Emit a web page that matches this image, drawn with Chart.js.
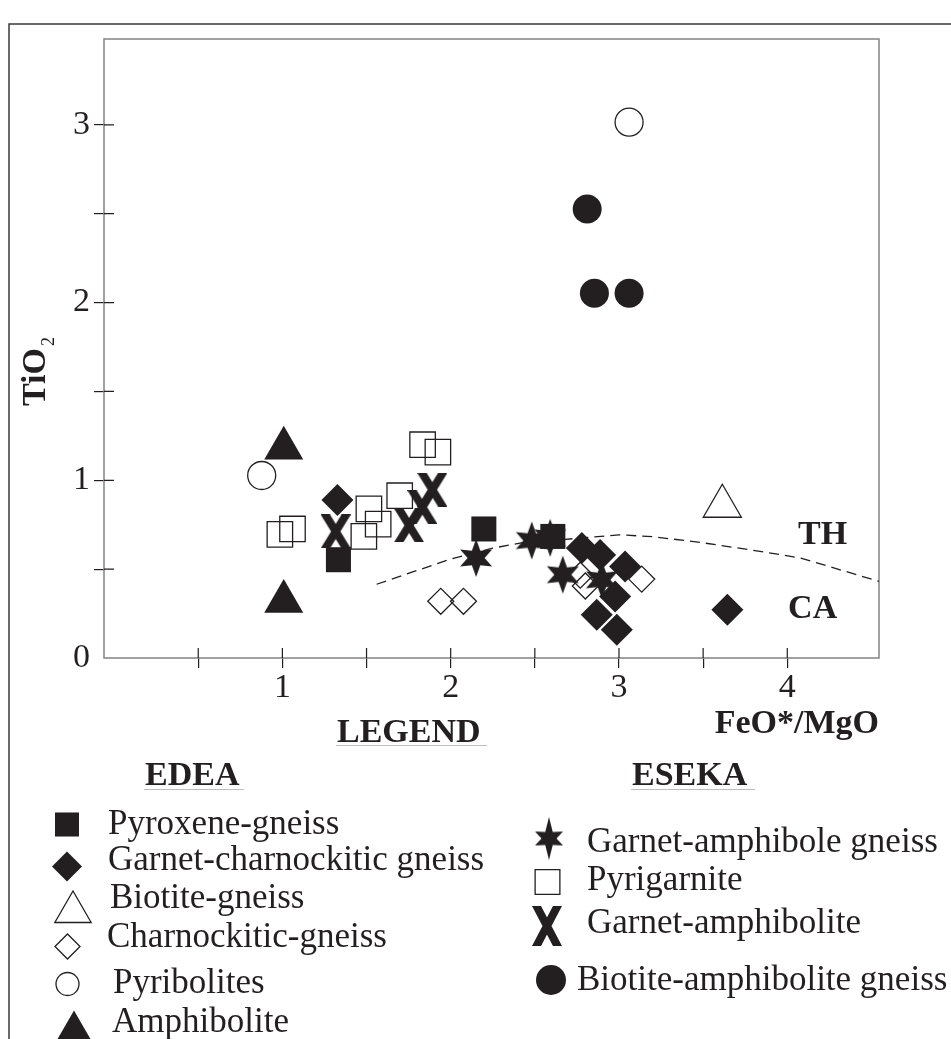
<!DOCTYPE html>
<html><head><meta charset="utf-8">
<script src="https://cdn.jsdelivr.net/npm/chart.js@4.4.1/dist/chart.umd.min.js"></script>
<style>html,body{margin:0;padding:0;background:#fff;overflow:hidden}canvas{display:block}</style>
</head><body>
<canvas id="c" width="951" height="1039" style="width:951px;height:1039px"></canvas>
<script>
// ---------- data ----------
const pyroxeneGneissX = [1.333, 2.197, 2.607];
const pyroxeneGneissY = [0.553, 0.726, 0.684];
const garnetCharnockiticX = [1.327, 2.779, 2.888, 3.036, 2.977, 2.868, 2.987, 3.644];
const garnetCharnockiticY = [0.889, 0.619, 0.580, 0.515, 0.346, 0.244, 0.159, 0.271];
const biotiteGneissX = [3.614];
const biotiteGneissY = [0.854];
const charnockiticGneissX = [1.941, 2.076, 2.77, 2.80, 3.135];
const charnockiticGneissY = [0.319, 0.319, 0.466, 0.405, 0.444];
const pyribolitesX = [0.877, 3.06];
const pyribolitesY = [1.027, 3.015];
const amphiboliteX = [1.008, 1.008];
const amphiboliteY = [1.180, 0.318];
const garnetAmphiboleGneissX = [2.151, 2.482, 2.591, 2.666, 2.898];
const garnetAmphiboleGneissY = [0.563, 0.661, 0.676, 0.469, 0.440];
const pyrigarniteX = [0.985, 1.060, 1.514, 1.569, 1.484, 1.697, 1.833, 1.924];
const pyrigarniteY = [0.696, 0.726, 0.839, 0.753, 0.684, 0.913, 1.200, 1.158];
const garnetAmphiboliteX = [1.317, 1.753, 1.832, 1.891];
const garnetAmphiboliteY = [0.712, 0.746, 0.849, 0.947];
const biotiteAmphiboliteGneissX = [2.811, 2.854, 3.06];
const biotiteAmphiboliteGneissY = [2.527, 2.053, 2.053];
const boundaryX = [1.56, 2.0, 2.25, 2.42, 2.75, 3.0, 3.2, 3.5, 3.86, 4.08, 4.55];
const boundaryY = [0.415, 0.557, 0.618, 0.648, 0.673, 0.693, 0.683, 0.648, 0.597, 0.562, 0.430];

const xTickValues = [0.5, 1, 1.5, 2, 2.5, 3, 3.5, 4];
const xTickLabels = ['', '1', '', '2', '', '3', '', '4'];
const yTickValues = [0, 0.5, 1, 1.5, 2, 2.5, 3];
const yTickLabels = ['0', '', '1', '', '2', '', '3'];
const xTitle = 'FeO*/MgO';
const yTitle = 'TiO';
const yTitleSub = '2';
const fieldLabels = [{text: 'TH', x: 4.064, y: 0.643}, {text: 'CA', x: 4.005, y: 0.227}];
const edeaTitle = 'EDEA';
const esekaTitle = 'ESEKA';
const legendTitle = 'LEGEND';

// ---------- styles ----------
const INK = '#231f20';
const CLEAR = 'rgba(0,0,0,0)';
const SERIF = '"Liberation Serif", "Times New Roman", serif';

function makeStar(w, h, vy, sx, sy, ri) {
  const c = document.createElement('canvas'); c.width = w; c.height = h;
  const g = c.getContext('2d'); const cx = w / 2, cy = h / 2;
  const outer = [[0, -vy], [sx, -sy], [sx, sy], [0, vy], [-sx, sy], [-sx, -sy]];
  const innerAng = [-60, 0, 60, 120, 180, 240].map(a => a * Math.PI / 180);
  g.fillStyle = INK; g.beginPath();
  outer.forEach((p, i) => {
    const px = cx + p[0], py = cy + p[1];
    i ? g.lineTo(px, py) : g.moveTo(px, py);
    const a = innerAng[i];
    g.lineTo(cx + Math.cos(a) * ri, cy + Math.sin(a) * ri);
  });
  g.closePath(); g.fill();
  return c;
}
function makeX(w, h) {
  const c = document.createElement('canvas'); c.width = w; c.height = h;
  const g = c.getContext('2d');
  g.strokeStyle = INK; g.lineWidth = 8; g.lineCap = 'butt';
  const a = 4.5, b = w - 4.5, ext = 6, dx = (b - a) / h * ext;
  g.beginPath();
  g.moveTo(a - dx, -ext); g.lineTo(b + dx, h + ext);
  g.moveTo(b + dx, -ext); g.lineTo(a - dx, h + ext);
  g.stroke();
  return c;
}
const starImg = makeStar(34, 40, 19, 16, 8.5, 8.5);
const starImgLegend = makeStar(30, 44, 21.5, 14, 7, 7.5);
const xImg = makeX(30, 34);
const xImgLegend = makeX(30, 40);

const pts = (xs, ys) => xs.map((x, i) => ({x, y: ys[i]}));
function ds(label, xs, ys, style, radius, filled) {
  return {
    label, data: pts(xs, ys), pointStyle: style, pointRadius: radius,
    pointBackgroundColor: filled ? INK : CLEAR, pointBorderColor: INK,
    pointBorderWidth: filled ? 0 : 1.3, showLine: false
  };
}

const datasets = [
  ds('Pyroxene-gneiss', pyroxeneGneissX, pyroxeneGneissY, 'rect', 17.7, true),
  ds('Garnet-amphibole gneiss', garnetAmphiboleGneissX, garnetAmphiboleGneissY, starImg, 16, true),
  ds('Garnet-charnockitic gneiss', garnetCharnockiticX, garnetCharnockiticY, 'rectRot', 16, true),
  ds('Garnet-amphibolite', garnetAmphiboliteX, garnetAmphiboliteY, xImg, 16, true),
  ds('Pyrigarnite', pyrigarniteX, pyrigarniteY, 'rect', 18, false),
  ds('Charnockitic-gneiss', charnockiticGneissX, charnockiticGneissY, 'rectRot', 13, false),
  ds('Biotite-gneiss', biotiteGneissX, biotiteGneissY, 'triangle', 22, false),
  ds('Pyribolites', pyribolitesX, pyribolitesY, 'circle', 14, false),
  ds('Biotite-amphibolite gneiss', biotiteAmphiboliteGneissX, biotiteAmphiboliteGneissY, 'circle', 14.5, true),
  ds('Amphibolite', amphiboliteX, amphiboliteY, 'triangle', 22.5, true),
  {label: 'TH/CA boundary', data: pts(boundaryX, boundaryY), showLine: true, pointRadius: 0,
   borderColor: INK, borderWidth: 1.3, borderDash: [10, 6], fill: false, tension: 0}
];

// legend layout (positions only)
const legendLayout = [
  {label: 'Pyroxene-gneiss', mx: 67, my: 824.5, r: 17, tx: 108, ty: 834},
  {label: 'Garnet-charnockitic gneiss', mx: 67, my: 866.5, r: 15, tx: 108, ty: 870},
  {label: 'Biotite-gneiss', mx: 73, my: 912, r: 21, tx: 110, ty: 908},
  {label: 'Charnockitic-gneiss', mx: 67.5, my: 946.5, r: 12.5, tx: 107, ty: 947},
  {label: 'Pyribolites', mx: 67.5, my: 984, r: 11.5, tx: 113, ty: 993},
  {label: 'Amphibolite', mx: 74, my: 1031, r: 20.5, tx: 112, ty: 1032},
  {label: 'Garnet-amphibole gneiss', mx: 549, my: 838.5, r: 16, tx: 587, ty: 851.5, img: starImgLegend},
  {label: 'Pyrigarnite', mx: 547.5, my: 882, r: 17.5, tx: 587, ty: 890},
  {label: 'Garnet-amphibolite', mx: 547, my: 926, r: 16, tx: 587, ty: 933, img: xImgLegend},
  {label: 'Biotite-amphibolite gneiss', mx: 551, my: 980, r: 15, tx: 577, ty: 990}
];

const framePlugin = {
  id: 'frame',
  beforeDraw(chart) {
    const ctx = chart.ctx;
    ctx.save();
    ctx.fillStyle = '#fff'; ctx.fillRect(0, 0, chart.width, chart.height);
    ctx.strokeStyle = '#3a3a3a'; ctx.lineWidth = 1.5;
    ctx.beginPath(); ctx.moveTo(9, chart.height); ctx.lineTo(9, 24); ctx.lineTo(chart.width, 24); ctx.stroke();
    ctx.restore();
  },
  beforeDatasetsDraw(chart) {
    const {ctx, chartArea: a, scales: {x, y}} = chart;
    ctx.save();
    ctx.strokeStyle = '#8a8a8a'; ctx.lineWidth = 1.6;
    ctx.strokeRect(a.left, a.top, a.right - a.left, a.bottom - a.top);
    ctx.strokeStyle = INK; ctx.lineWidth = 1.2; ctx.beginPath();
    x.ticks.forEach(t => { const px = x.getPixelForValue(t.value); ctx.moveTo(px, a.bottom); ctx.lineTo(px, a.bottom - 10); });
    y.ticks.forEach(t => { if (t.value === 0) return; const py = y.getPixelForValue(t.value); ctx.moveTo(a.left, py); ctx.lineTo(a.left + 10, py); });
    ctx.stroke();
    ctx.restore();
  },
  afterDraw(chart) {
    const {ctx, chartArea: a, scales: {x, y}} = chart;
    ctx.save();
    ctx.fillStyle = INK; ctx.textBaseline = 'alphabetic'; ctx.textAlign = 'left';
    ctx.font = 'bold 34px ' + SERIF;
    fieldLabels.forEach(f => ctx.fillText(f.text, x.getPixelForValue(f.x), y.getPixelForValue(f.y)));
    ctx.textAlign = 'right';
    ctx.fillText(xTitle, a.right, 733);
    ctx.save();
    ctx.translate(45, 406); ctx.rotate(-Math.PI / 2);
    ctx.textAlign = 'left';
    ctx.font = 'bold 34px ' + SERIF;
    ctx.fillText(yTitle, 0, 0);
    const w = ctx.measureText(yTitle).width;
    ctx.font = '18px ' + SERIF;
    ctx.fillText(yTitleSub, w + 2, 9);
    ctx.restore();
    ctx.textAlign = 'left';
    ctx.font = 'bold 34px ' + SERIF;
    const heads = [[legendTitle, 337, 741.5, 745, 487], [edeaTitle, 145, 785, 789, 244], [esekaTitle, 632, 785, 789, 755]];
    heads.forEach(h => ctx.fillText(h[0], h[1], h[2]));
    ctx.strokeStyle = '#bdbdbd'; ctx.lineWidth = 1.2;
    ctx.beginPath();
    heads.forEach(h => { ctx.moveTo(h[1] - 1, h[3] + 0.5); ctx.lineTo(h[4], h[3] + 0.5); });
    ctx.stroke();
    ctx.font = '35px ' + SERIF;
    legendLayout.forEach(item => {
      const d = chart.data.datasets.find(s => s.label === item.label);
      ctx.save();
      ctx.fillStyle = d.pointBackgroundColor; ctx.strokeStyle = d.pointBorderColor;
      ctx.lineWidth = d.pointBorderWidth;
      Chart.helpers.drawPoint(ctx, {pointStyle: item.img || d.pointStyle, radius: item.r, borderWidth: d.pointBorderWidth, rotation: 0}, item.mx, item.my);
      ctx.restore();
      ctx.fillStyle = INK;
      ctx.fillText(item.label, item.tx, item.ty);
    });
    ctx.restore();
  }
};

new Chart(document.getElementById('c'), {
  type: 'scatter',
  data: {datasets},
  options: {
    responsive: false, animation: false, events: [],
    devicePixelRatio: 1,
    layout: {padding: {left: 0, right: 72, top: 39, bottom: 281}},
    plugins: {legend: {display: false}, tooltip: {enabled: false}},
    scales: {
      x: {
        type: 'linear', min: -0.06, max: 4.545,
        afterFit: s => { s.height = 100; },
        afterBuildTicks: s => { s.ticks = xTickValues.map(v => ({value: v})); },
        border: {display: false},
        grid: {drawOnChartArea: false, drawTicks: true, tickLength: 10, color: INK, lineWidth: 1.2},
        ticks: {padding: 3, color: INK, font: {family: SERIF, size: 34, lineHeight: 1}, maxRotation: 0, autoSkip: false,
                callback: v => { const i = xTickValues.indexOf(v); return i < 0 ? '' : xTickLabels[i]; }}
      },
      y: {
        type: 'linear', min: 0, max: 3.483,
        afterFit: s => { s.width = 104; },
        afterBuildTicks: s => { s.ticks = yTickValues.map(v => ({value: v})); },
        border: {display: false},
        grid: {drawOnChartArea: false, drawTicks: true, tickLength: 10, lineWidth: 1.2,
               color: c => (c.tick && c.tick.value === 0) ? CLEAR : INK},
        ticks: {padding: 4, color: INK, font: {family: SERIF, size: 34, lineHeight: 1}, autoSkip: false,
                callback: v => { const i = yTickValues.indexOf(v); return i < 0 ? '' : yTickLabels[i]; }}
      }
    }
  },
  plugins: [framePlugin]
});
</script>
</body></html>
